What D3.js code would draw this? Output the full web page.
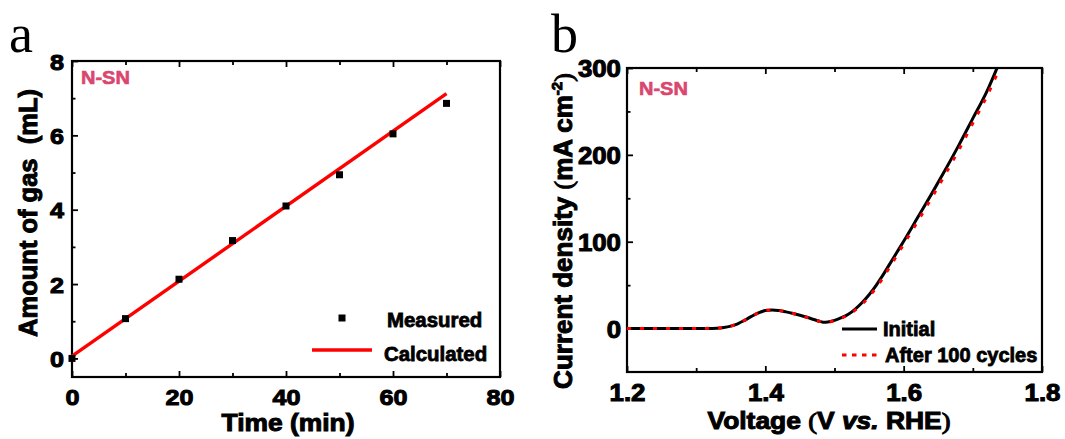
<!DOCTYPE html>
<html>
<head>
<meta charset="utf-8">
<script src="https://cdn.jsdelivr.net/npm/d3@7"></script>
<style>
  html, body { margin: 0; padding: 0; background: #fff; }
  svg { display: block; }
</style>
</head>
<body>
<svg id="fig" width="1065" height="439"></svg>
<script>
// ---- Panel a: gas evolution ----
const timeMin       = [0, 10, 20, 30, 40, 50, 60, 70];
const gasMeasured   = [0, 1.07, 2.13, 3.17, 4.10, 4.94, 6.04, 6.86];
const calcTime      = [0, 70];
const gasCalculated = [0.06, 7.12];
const timeTicks      = [0, 20, 40, 60, 80];
const timeMinorTicks = [10, 30, 50, 70];
const gasTicks       = [0, 2, 4, 6, 8];
const gasMinorTicks  = [1, 3, 5, 7];

// ---- Panel b: polarisation curves ----
const voltage = [1.20, 1.25, 1.30, 1.33, 1.34, 1.35, 1.36, 1.37, 1.38, 1.39,
                 1.40, 1.41, 1.42, 1.43, 1.44, 1.45, 1.46, 1.47, 1.48, 1.485,
                 1.49, 1.50, 1.51, 1.52, 1.53, 1.54, 1.55, 1.56, 1.57, 1.58,
                 1.59, 1.60, 1.62, 1.64, 1.66, 1.68, 1.70, 1.72, 1.735];
const currentInitial = [0, 0, 0.1, 0.5, 1.2, 2.8, 5.5, 9.5, 14, 18,
                        20.8, 21.5, 20.7, 19.2, 17.4, 15.3, 13, 10.5, 8, 7.2,
                        7.5, 9.5, 12.5, 16.5, 22.5, 30, 39, 49.5, 61.5, 74.5,
                        87.5, 100.5, 127.5, 154.5, 182.5, 211.5, 242, 272.5, 300];
const currentAfter   = [0, 0, 0.1, 0.5, 1.2, 2.8, 5.5, 9.5, 14, 18,
                        20.8, 21.5, 20.7, 19.2, 17.4, 15.3, 13, 10.5, 8, 7.2,
                        7.3, 9.2, 12, 15.8, 21.3, 28.3, 36.8, 46.8, 58.3, 71,
                        84, 97, 123, 150, 177.5, 206, 236.5, 267, 293];
const voltTicks       = [1.2, 1.4, 1.6, 1.8];
const voltMinorTicks  = [1.3, 1.5, 1.7];
const currTicks       = [0, 100, 200, 300];
const currMinorTicks  = [-50, 50, 150, 250];

const SANS  = '"Liberation Sans", Arial, Helvetica, sans-serif';
const SERIF = '"Liberation Serif", "Times New Roman", serif';
const PINK  = '#d9466f';
const RED   = '#ff0000';

const svg = d3.select('#fig');

// heavy bold text, optionally stretched horizontally, placed at (x, y)
function label(parent, x, y, str, o = {}) {
  const g = parent.append('g')
    .attr('transform', `translate(${x},${y}) rotate(${o.rotate || 0}) scale(${o.sx || 1},1)`);
  const fill = o.fill || '#000';
  const t = g.append('text')
    .attr('text-anchor', o.anchor || 'start')
    .attr('font-family', o.family || SANS)
    .attr('font-weight', o.weight || 'bold')
    .attr('font-size', o.size || 20)
    .attr('fill', fill)
    .style('white-space', 'pre');
  if (o.heavy !== false) t.attr('stroke', fill).attr('stroke-width', o.sw || 0.8);
  if (str !== null) t.text(str);
  return t;
}

// framed axes with inward ticks on left, bottom and top
function frame(g, x, y, o) {
  const [x0, x1] = x.range(), [y0, y1] = y.range();
  const tickSx = o.tickSx;

  const bottom = g.append('g').attr('transform', `translate(0,${y0})`)
    .call(d3.axisBottom(x).tickValues(o.xTicks).tickSizeInner(-6).tickSizeOuter(0)
      .tickFormat(o.xFormat));
  bottom.selectAll('text')
    .attr('y', 0).attr('dy', 0)
    .attr('transform', `translate(0,${o.xLabelDy}) scale(${tickSx},1)`);
  g.append('g').attr('transform', `translate(0,${y0})`)
    .call(d3.axisBottom(x).tickValues(o.xMinor).tickSizeInner(-4).tickSizeOuter(0).tickFormat(''));

  g.append('g').attr('transform', `translate(0,${y1})`)
    .call(d3.axisTop(x).tickValues(o.xTicks).tickSizeInner(-6).tickSizeOuter(0).tickFormat(''));
  g.append('g').attr('transform', `translate(0,${y1})`)
    .call(d3.axisTop(x).tickValues(o.xMinor).tickSizeInner(-4).tickSizeOuter(0).tickFormat(''));

  const left = g.append('g').attr('transform', `translate(${x0},0)`)
    .call(d3.axisLeft(y).tickValues(o.yTicks).tickSizeInner(-6).tickSizeOuter(0)
      .tickFormat(o.yFormat));
  left.selectAll('text')
    .attr('x', 0).attr('dy', '0.36em')
    .attr('transform', `translate(${-o.yLabelGap},0) scale(${tickSx},1)`);
  g.append('g').attr('transform', `translate(${x0},0)`)
    .call(d3.axisLeft(y).tickValues(o.yMinor.filter(v => v > y.domain()[0]))
      .tickSizeInner(-3.5).tickSizeOuter(0).tickFormat(''));

  g.selectAll('.domain').remove();
  g.selectAll('.tick line').attr('stroke', '#000').attr('stroke-width', 1.8);
  g.selectAll('.tick text')
    .attr('font-family', SANS).attr('font-weight', 'bold')
    .attr('font-size', o.tickSize).attr('fill', '#000')
    .attr('stroke', '#000').attr('stroke-width', 1);

  g.append('rect')
    .attr('x', x0).attr('y', y1)
    .attr('width', x1 - x0).attr('height', y0 - y1)
    .attr('fill', 'none').attr('stroke', '#000').attr('stroke-width', 2.2);
}

// ================= Panel a =================
{
  const g = svg.append('g');
  const x = d3.scaleLinear().domain([0, 80]).range([72, 500]);
  const y = d3.scaleLinear().domain([-0.5, 8]).range([377, 61]);

  frame(g, x, y, {
    xTicks: timeTicks, xMinor: timeMinorTicks, yTicks: gasTicks, yMinor: gasMinorTicks,
    xFormat: d3.format('d'), yFormat: d3.format('d'),
    tickSize: 22.5, tickSx: 1.12, xLabelDy: 28, yLabelGap: 8
  });

  // calculated line
  const line = d3.line().x((d, i) => x(calcTime[i])).y(d => y(d));
  g.append('path').datum(gasCalculated)
    .attr('d', line).attr('fill', 'none')
    .attr('stroke', RED).attr('stroke-width', 3.4);

  // measured points
  const s = 7;
  g.selectAll('rect.pt').data(gasMeasured).join('rect')
    .attr('class', 'pt')
    .attr('x', (d, i) => x(timeMin[i]) - s / 2)
    .attr('y', d => y(d) - s / 2)
    .attr('width', s).attr('height', s)
    .attr('fill', '#000');

  // legend
  g.append('rect').attr('x', 342 - s / 2).attr('y', 318 - s / 2)
    .attr('width', s).attr('height', s).attr('fill', '#000');
  label(g, 387, 327, 'Measured', { size: 20, sx: 1.02 });
  g.append('line').attr('x1', 312).attr('x2', 372).attr('y1', 350).attr('y2', 350)
    .attr('stroke', RED).attr('stroke-width', 3.4);
  label(g, 384, 361, 'Calculated', { size: 20, sx: 1.02 });

  label(g, 81, 84, 'N-SN', { size: 18.5, sx: 1.08, fill: PINK, sw: 0.6 });

  // axis titles
  label(g, 288, 431, 'Time (min)', { size: 24, sx: 1.1, anchor: 'middle', sw: 1 });
  label(g, 37, 213, 'Amount of gas  (mL)', { size: 25.5, anchor: 'middle', rotate: -90, sw: 1 });

  // panel letter
  label(g, 9, 52, 'a', { size: 54, family: SERIF, weight: 'normal', heavy: false });
}

// ================= Panel b =================
{
  const g = svg.append('g');
  const x = d3.scaleLinear().domain([1.2, 1.8]).range([627, 1042]);
  const y = d3.scaleLinear().domain([-50, 300]).range([372, 68]);

  frame(g, x, y, {
    xTicks: voltTicks, xMinor: voltMinorTicks, yTicks: currTicks, yMinor: currMinorTicks,
    xFormat: d3.format('.1f'), yFormat: d3.format('d'),
    tickSize: 23.5, tickSx: 1.1, xLabelDy: 29, yLabelGap: 6
  });

  g.append('clipPath').attr('id', 'clipB')
    .append('rect').attr('x', 627).attr('y', 68).attr('width', 415).attr('height', 304);

  const line = d3.line()
    .x((d, i) => x(voltage[i])).y(d => y(d))
    .curve(d3.curveMonotoneX);

  g.append('path').datum(currentInitial)
    .attr('clip-path', 'url(#clipB)')
    .attr('d', line).attr('fill', 'none')
    .attr('stroke', '#000').attr('stroke-width', 3);
  g.append('path').datum(currentAfter)
    .attr('clip-path', 'url(#clipB)')
    .attr('d', line).attr('fill', 'none')
    .attr('stroke', RED).attr('stroke-width', 3)
    .attr('stroke-dasharray', '4,9');

  // legend
  g.append('line').attr('x1', 842).attr('x2', 877).attr('y1', 329).attr('y2', 329)
    .attr('stroke', '#000').attr('stroke-width', 3);
  label(g, 883, 336, 'Initial', { size: 20 });
  g.append('line').attr('x1', 842).attr('x2', 877).attr('y1', 355).attr('y2', 355)
    .attr('stroke', RED).attr('stroke-width', 3).attr('stroke-dasharray', '4.5,5.5');
  label(g, 885, 362, 'After 100 cycles', { size: 20 });

  label(g, 639, 95, 'N-SN', { size: 18.5, sx: 1.08, fill: PINK, sw: 0.6 });

  // x axis title with italic "vs."
  const xt = label(g, 829, 429, null, { size: 24, sx: 1.1, anchor: 'middle', sw: 1 });
  xt.append('tspan').text('Voltage ');
  xt.append('tspan').attr('font-family', SERIF).attr('font-weight', 'normal').text('(');
  xt.append('tspan').text('V ');
  xt.append('tspan').attr('font-style', 'italic').text('vs.');
  xt.append('tspan').text(' RHE');
  xt.append('tspan').attr('font-family', SERIF).attr('font-weight', 'normal').text(')');

  // y axis title with superscript
  const yt = label(g, 572, 231, null, { size: 26, anchor: 'middle', rotate: -90, sw: 1 });
  yt.append('tspan').text('Current density ');
  yt.append('tspan').attr('font-family', SERIF).attr('font-weight', 'normal').text('(');
  yt.append('tspan').text('mA cm');
  yt.append('tspan').attr('font-size', 15).attr('dy', -10).text('-2');
  yt.append('tspan').attr('dy', 10).attr('font-family', SERIF).attr('font-weight', 'normal').text(')');

  label(g, 551, 52, 'b', { size: 54, family: SERIF, weight: 'normal', heavy: false });
}
</script>
</body>
</html>
